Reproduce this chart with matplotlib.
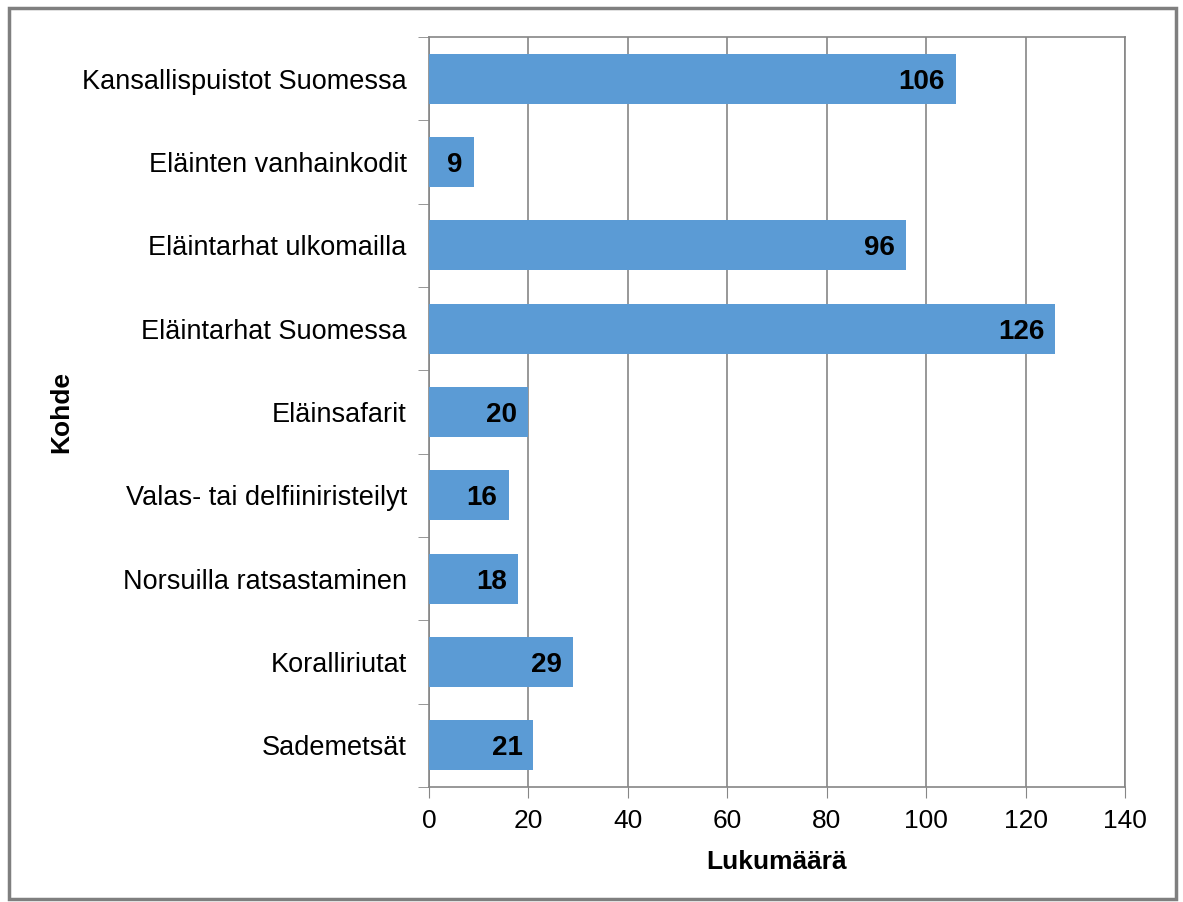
import matplotlib.pyplot as plt
from matplotlib.patches import Rectangle

# data (top to bottom as in chart)
categories = ['Kansallispuistot Suomessa', 'Eläinten vanhainkodit',
              'Eläintarhat ulkomailla', 'Eläintarhat Suomessa',
              'Eläinsafarit', 'Valas- tai delfiiniristeilyt',
              'Norsuilla ratsastaminen', 'Koralliriutat', 'Sademetsät']
counts = [106, 9, 96, 126, 20, 16, 18, 29, 21]
xticks = [0, 20, 40, 60, 80, 100, 120, 140]

plt.rcParams['font.family'] = ['Liberation Sans', 'DejaVu Sans']

fig = plt.figure(figsize=(11.83, 9.02), dpi=100)
W, H = 1183, 902
ax = fig.add_axes([429 / W, 1 - 787 / H, (1125 - 429) / W, (787 - 37) / H])

n = len(categories)
ypos = list(range(n - 1, -1, -1))
ax.barh(ypos, counts, height=0.6, color='#5B9BD5', zorder=3)
for y, v in zip(ypos, counts):
    ax.text(v - 2.2, y, str(v), ha='right', va='center_baseline', fontsize=20,
            fontweight='bold', color='black', zorder=4)

ax.set_xlim(0, 140)
ax.set_ylim(-0.5, n - 0.5)
ax.set_xticks(xticks)
ax.set_xticklabels([str(t) for t in xticks], fontsize=19)
ax.set_yticks(ypos)
ax.set_yticklabels(categories, fontsize=19.5)
ax.set_yticks([i - 0.5 for i in range(n + 1)], minor=True)
ax.tick_params(axis='y', which='major', length=0, pad=16)
ax.tick_params(axis='y', which='minor', length=8, color='#868686', direction='out')
ax.tick_params(axis='x', length=8, color='#868686', direction='out', pad=8)
ax.grid(axis='x', color='#868686', linewidth=1.2, zorder=0)
for s in ax.spines.values():
    s.set_color('#868686')
    s.set_linewidth(1.2)

ax.set_xlabel('Lukumäärä', fontsize=19, fontweight='bold', labelpad=12)
ax.set_ylabel('Kohde', fontsize=19, fontweight='bold')
ax.yaxis.set_label_coords(-0.511, 0.5)

# outer chart border
fig.patches.append(Rectangle((9 / W, 1 - 899 / H), (1176 - 9) / W, (899 - 8) / H,
                             transform=fig.transFigure, fill=False,
                             edgecolor='#7f7f7f', linewidth=2.5))

plt.savefig('out.png', dpi=100)
